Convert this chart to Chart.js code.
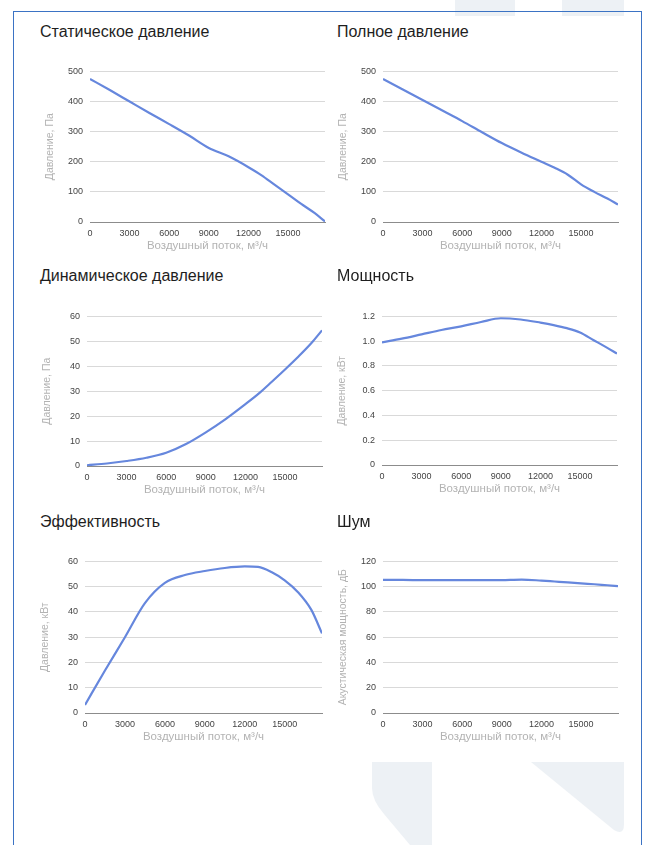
<!DOCTYPE html>
<html>
<head>
<meta charset="utf-8">
<script src="https://cdn.jsdelivr.net/npm/chart.js@4.4.0/dist/chart.umd.min.js"></script>
<style>
  body { margin: 0; width: 646px; height: 845px; background: #fff; position: relative; overflow: hidden;
         font-family: "Liberation Sans", Arial, sans-serif; }
  .frame { position: absolute; left: 13px; top: 11px; width: 627px; height: 900px; border: 1px solid #3b73c4; }
  .ttl { position: absolute; font-size: 16px; line-height: 20px; color: #1e1e1e; white-space: nowrap; }
  canvas { position: absolute; }
</style>
</head>
<body>
<svg width="646" height="845" style="position:absolute;left:0;top:0">
  <rect x="455" y="0" width="60" height="16" fill="#edf1f5"/>
  <rect x="562" y="0" width="62" height="16" fill="#edf1f5"/>
  <path d="M372 762 H432 V845 H410 L384 814 Q372 800 372 788 Z" fill="#edf1f5"/>
  <path d="M531 762 H624 V824 Q624 836 614 830 Z" fill="#edf1f5"/>
</svg>
<div class="frame"></div>
<script>
// air flow, m3/h
const flow = [0, 1500, 3000, 4500, 6000, 7500, 9000, 10500, 12000, 13000, 14000, 15000, 16000, 17000, 17800];
const staticPressure = [475, 438, 400, 362, 325, 287, 246, 218, 182, 155, 123, 92, 60, 30, 2];
const totalPressure = [475, 440, 405, 370, 335, 298, 262, 230, 200, 180, 157, 125, 100, 78, 58];
const dynamicPressure = [0.3, 1.0, 2.0, 3.3, 5.3, 8.8, 13.5, 18.8, 24.8, 29.0, 33.8, 38.7, 43.8, 49.3, 54.4];
const power = [0.99, 1.02, 1.055, 1.09, 1.12, 1.155, 1.185, 1.175, 1.15, 1.13, 1.105, 1.07, 1.01, 0.95, 0.90];
const efficiency = [3.2, 16.8, 30, 43.5, 51.5, 54.6, 56.2, 57.4, 58, 57.8, 55.8, 52.5, 47.8, 40.8, 31.5];
const noise = [105.3, 105.3, 105.2, 105.2, 105.1, 105.1, 105.2, 105.6, 104.8, 104.1, 103.4, 102.6, 101.9, 101.1, 100.5];
const xTicks = [0, 3000, 6000, 9000, 12000, 15000];
const xTitle = 'Воздушный поток, м³/ч';

Chart.defaults.font.family = '"Liberation Sans", Arial, sans-serif';

// plot = [left, top, right, bottom] of the chart area
const panels = [
  { title: 'Статическое давление', yTitle: 'Давление, Па', values: staticPressure, yMax: 500, yStep: 100, plot: [90, 69, 325, 222], tx: 40, ty: 32 },
  { title: 'Полное давление', yTitle: 'Давление, Па', values: totalPressure, yMax: 500, yStep: 100, plot: [383, 69, 618, 222], tx: 337, ty: 32 },
  { title: 'Динамическое давление', yTitle: 'Давление, Па', values: dynamicPressure, yMax: 60, yStep: 10, plot: [87, 314, 322, 466], tx: 40, ty: 276 },
  { title: 'Мощность', yTitle: 'Давление, кВт', values: power, yMax: 1.2, yStep: 0.2, plot: [382, 314, 617, 465], tx: 337, ty: 276 },
  { title: 'Эффективность', yTitle: 'Давление, кВт', values: efficiency, yMax: 60, yStep: 10, plot: [85, 559, 322, 713], tx: 40, ty: 522 },
  { title: 'Шум', yTitle: 'Акустическая мощность, дБ', values: noise, yMax: 120, yStep: 20, plot: [383, 559, 618, 713], tx: 337, ty: 522 }
];

const Y_W = 55, X_H = 34, PAD_T = 10, PAD_R = 8;

panels.forEach(function (p) {
  const t = document.createElement('div');
  t.className = 'ttl';
  t.style.left = p.tx + 'px';
  t.style.top = (p.ty - 10) + 'px';
  t.textContent = p.title;
  document.body.appendChild(t);

  const [L, T, R, B] = p.plot;
  const cv = document.createElement('canvas');
  cv.width = R - L + Y_W + PAD_R;
  cv.height = B - T + PAD_T + X_H;
  cv.style.left = (L - Y_W) + 'px';
  cv.style.top = (T - PAD_T) + 'px';
  document.body.appendChild(cv);

  new Chart(cv, {
    type: 'line',
    data: {
      datasets: [{
        data: flow.map((x, i) => ({ x: x, y: p.values[i] })),
        borderColor: '#6687dd',
        borderWidth: 2.2,
        pointRadius: 0,
        cubicInterpolationMode: 'monotone',
        fill: false
      }]
    },
    options: {
      animation: false,
      responsive: false,
      devicePixelRatio: 1,
      layout: { padding: { top: PAD_T, right: PAD_R, left: 0, bottom: 0 } },
      plugins: { legend: { display: false }, tooltip: { enabled: false } },
      scales: {
        x: {
          type: 'linear',
          min: 0,
          max: flow[flow.length - 1],
          grid: { display: false, drawTicks: false },
          border: { color: '#8c8c8c', width: 1 },
          ticks: { padding: 6, color: '#444', font: { size: 9 },
                   maxRotation: 0, autoSkip: false, callback: v => String(v) },
          afterBuildTicks: s => { s.ticks = xTicks.map(v => ({ value: v })); },
          title: { display: true, text: xTitle, color: '#b3b3b3', font: { size: 11.5 }, padding: { top: 0, bottom: 3 } },
          afterFit: s => { s.height = X_H; }
        },
        y: {
          min: 0,
          max: p.yMax,
          grid: { color: '#d9d9d9', drawTicks: false },
          border: { display: false },
          ticks: { stepSize: p.yStep, padding: 7, color: '#444', font: { size: 9 } },
          title: { display: true, text: p.yTitle, color: '#b3b3b3', font: { size: 10.5 }, padding: { top: 9, bottom: 0 } },
          afterFit: s => { s.width = Y_W; }
        }
      }
    }
  });
});
</script>
</body>
</html>
